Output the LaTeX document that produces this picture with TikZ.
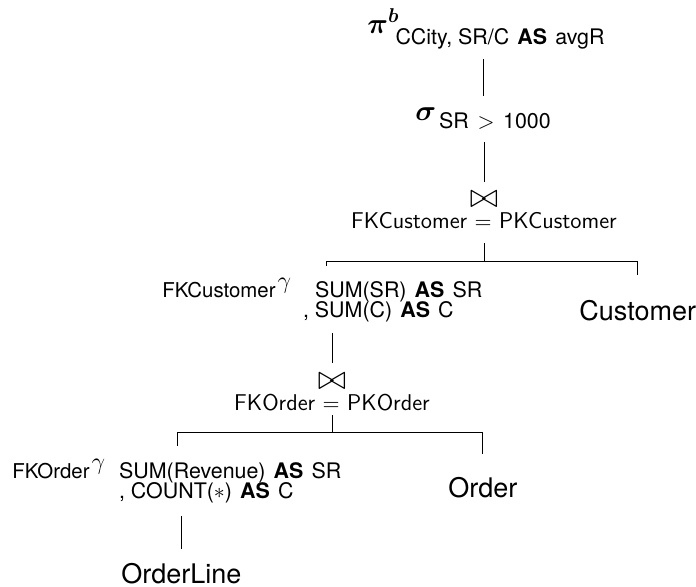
\documentclass[tikz,border=0pt]{standalone}
\usepackage{amsmath}
\usepackage{bm}
\usepackage{fontspec}
\setmainfont{TeX Gyre Heros}

\newcommand{\subtext}{\fontsize{10.7}{12}\selectfont}
\newcommand{\keytext}{\fontsize{10.2}{12}\selectfont}
\newcommand{\reltext}{\fontsize{13.5}{16}\selectfont}
\newcommand{\AS}{\hspace{0.38em}\textbf{AS}\hspace{0.38em}}
\newcommand{\joinsym}{{\fontsize{16}{16}\selectfont$\bowtie$}}
\newcommand{\aggsym}{\hspace{1pt}\raisebox{4.5pt}{\fontsize{11.5}{12}\selectfont$\gamma$}}
\newcommand{\agglist}[3]{\vtop{\subtext\baselineskip=10.2pt\lineskiplimit=-\maxdimen
  \hbox{\kern#1pt #2}\hbox{#3}}}

\tikzset{
  opnode/.style={inner sep=0pt, anchor=base west, font=\fontsize{14}{16}\selectfont},
  aggnode/.style={inner sep=0pt, anchor=base west, font=\keytext},
  relnode/.style={inner sep=0pt, anchor=base west, font=\reltext},
  joinnode/.style={inner sep=0pt, anchor=north, align=center,
    font=\fontsize{11.4}{10.5}\selectfont\sffamily},
  treeline/.style={draw, line width=0.5pt},
}

\begin{document}
\begin{tikzpicture}[x=0.5pt, y=-0.5pt]
\useasboundingbox (0,0) rectangle (696,586);

% operators
\node[opnode] (proj) at (367,33)
  {$\bm{\pi}^{\bm{b}}$\hspace{-2pt}\raisebox{-5.5pt}{\subtext CCity, SR/C\AS avgR}};
\node[opnode] (sel) at (415,120)
  {$\bm{\sigma}$\hspace{1.5pt}\raisebox{-4pt}{\subtext SR\hspace{0.4em}$>$\hspace{0.4em}1000}};
\node[joinnode] (join1) at (484,191)
  {\joinsym\\FKCustomer $=$ PKCustomer};
\node[aggnode] (gamma1) at (162,297)
  {FKCustomer\aggsym\hspace{6pt}\agglist{6}{SUM(SR)\AS SR}{, SUM(C)\AS C}};
\node[joinnode] (join2) at (332,373)
  {\joinsym\\FKOrder $=$ PKOrder};
\node[aggnode] (gamma2) at (12,478)
  {FKOrder\aggsym\hspace{7pt}\agglist{0}{SUM(Revenue)\AS SR}{, COUNT($*$)\AS C}};

% relations
\node[relnode] (cust) at (579,320) {Customer};
\node[relnode] (order) at (448,497) {Order};
\node[relnode] (oline) at (121,583) {OrderLine};

% tree
\draw[treeline, shorten <=5pt, shorten >=5.3pt] (sel.north |- proj.south) -- (sel.north);
\draw[treeline, shorten <=6.5pt, shorten >=4.5pt] (join1.north |- sel.south) -- (join1.north);
\draw[treeline, shorten <=7pt, shorten >=5.5pt] (join1.south) -- ++(0,32) -| ([xshift=2pt]gamma1.north);
\draw[treeline, shorten <=7pt, shorten >=12pt] (join1.south) -- ++(0,32) -| (cust.north);
\draw[treeline, shorten <=5.5pt, shorten >=5pt] (join2.north |- gamma1.south) -- (join2.north);
\draw[treeline, shorten <=2pt, shorten >=6pt] (join2.south) -- ++(0,21) -| ([xshift=0.5pt]gamma2.north);
\draw[treeline, shorten <=2pt, shorten >=11pt] (join2.south) -- ++(0,21) -| (order.north);
\draw[treeline, shorten <=6.5pt, shorten >=6.5pt] (oline.north |- gamma2.south) -- (oline.north);
\end{tikzpicture}
\end{document}
